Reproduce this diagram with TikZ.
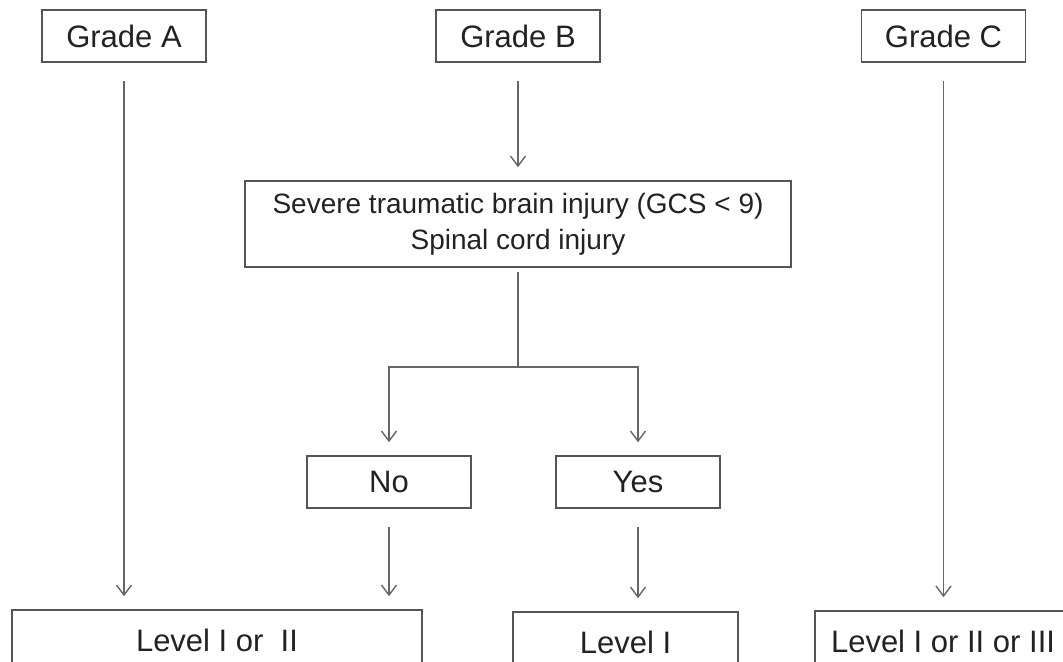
\documentclass[tikz,border=0pt]{standalone}
\usepackage{fontspec}
\setmainfont{Liberation Sans}
\usetikzlibrary{arrows.meta,positioning}
\definecolor{linegray}{HTML}{666666}
\definecolor{boxgray}{HTML}{555555}
\definecolor{textgray}{HTML}{222222}

\begin{document}
\begin{tikzpicture}[x=0.5pt, y=-0.5pt,
    box/.style={rectangle, draw=boxgray, line width=0.8pt, inner sep=0pt, text=textgray,
        font=\fontsize{15.5}{18.6}\selectfont, align=center, minimum width=82pt, minimum height=26pt},
    arrow/.style={draw=linegray, line width=0.7pt, -{Straight Barb[length=5pt, width=7.5pt]},
        shorten <=9pt, shorten >=6.5pt}]
    \useasboundingbox (0,0) rectangle (1063,662);

    \node[box] (gradeA) at (124,36) {Grade A};
    \node[box] (gradeB) at (518,36) {Grade B};
    \node[box] (gradeC) at (943.5,36) {Grade C};
    \node[box, minimum width=273pt, minimum height=43pt, font=\fontsize{14}{18}\selectfont] (injury) at (518,224)
        {Severe traumatic brain injury (GCS < 9)\\Spinal cord injury};
    \node[box] (no) at (389,482) {No};
    \node[box] (yes) at (638,482) {Yes};
    \node[box, minimum width=205pt, minimum height=30pt] (levelA) at (217,640) {Level I or \ II};
    \node[box, minimum width=112.5pt, minimum height=30pt] (levelB) at (625.5,642) {Level I};
    \node[box, minimum width=128pt, minimum height=30pt] (levelC) at (943,641) {Level I or II or III};

    \coordinate (split) at (518,367);

    \draw[arrow] (gradeA) -- (gradeA |- levelA.north);
    \draw[arrow] (gradeB) -- (injury);
    \draw[arrow] (gradeC) -- (gradeC |- levelC.north);
    \draw[draw=linegray, line width=0.7pt, shorten <=2pt] (injury.south) -- (split);
    \draw[arrow, shorten <=0pt] (split) -| (no.north);
    \draw[arrow, shorten <=0pt] (split) -| (yes.north);
    \draw[arrow] (no) -- (no |- levelA.north);
    \draw[arrow] (yes) -- (yes |- levelB.north);
\end{tikzpicture}
\end{document}
